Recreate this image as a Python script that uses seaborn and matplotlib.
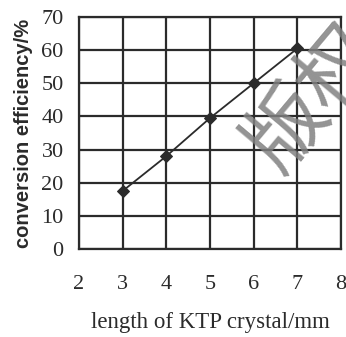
import pandas as pd
import numpy as np
import matplotlib
matplotlib.use("Agg")
import matplotlib.pyplot as plt
import seaborn as sns

# data
crystal_length = [3, 4, 5, 6, 7]
efficiency = [17.5, 28, 39.5, 50, 60.5]
x_ticks = [2, 3, 4, 5, 6, 7, 8]
y_ticks = [0, 10, 20, 30, 40, 50, 60, 70]

df = pd.DataFrame({"length": crystal_length, "eff": efficiency})

sns.set_theme(style="whitegrid")
plt.rcParams['font.family'] = ['Liberation Serif', 'DejaVu Serif']
ink = "#2b2b2b"

fig = plt.figure(figsize=(3.46, 3.37), dpi=100)
ax = fig.add_axes([0.228, 0.261, 0.758, 0.689])

sns.lineplot(data=df, x="length", y="eff", ax=ax, color=ink, linewidth=1.3,
             marker="D", markersize=6, markeredgecolor=ink)

ax.set_xlim(2, 8)
ax.set_ylim(0, 70)
ax.set_xticks(x_ticks)
ax.set_yticks(y_ticks)
ax.grid(True, color=ink, linewidth=1.6)
for s in ax.spines.values():
    s.set_color(ink)
    s.set_linewidth(1.6)
ax.set_facecolor("white")
ax.tick_params(axis="x", pad=19, labelsize=16, colors=ink, length=0)
ax.tick_params(axis="y", pad=11, labelsize=16, colors=ink, length=0)
ax.set_xlabel("length of KTP crystal/mm", fontsize=16.5, color=ink, labelpad=13)
ax.set_ylabel("conversion efficiency/%", fontsize=14.5, color=ink, labelpad=6,
              fontweight="bold", family=['Liberation Sans', 'DejaVu Sans'])

# watermark
fig.text(0.905, 0.71, "版权", fontsize=58, color="#808080", alpha=0.85,
         rotation=50, ha="center", va="center", fontweight="medium",
         family=['Noto Sans CJK SC', 'DejaVu Sans'])

fig.savefig("out.png", dpi=100, facecolor="white")
